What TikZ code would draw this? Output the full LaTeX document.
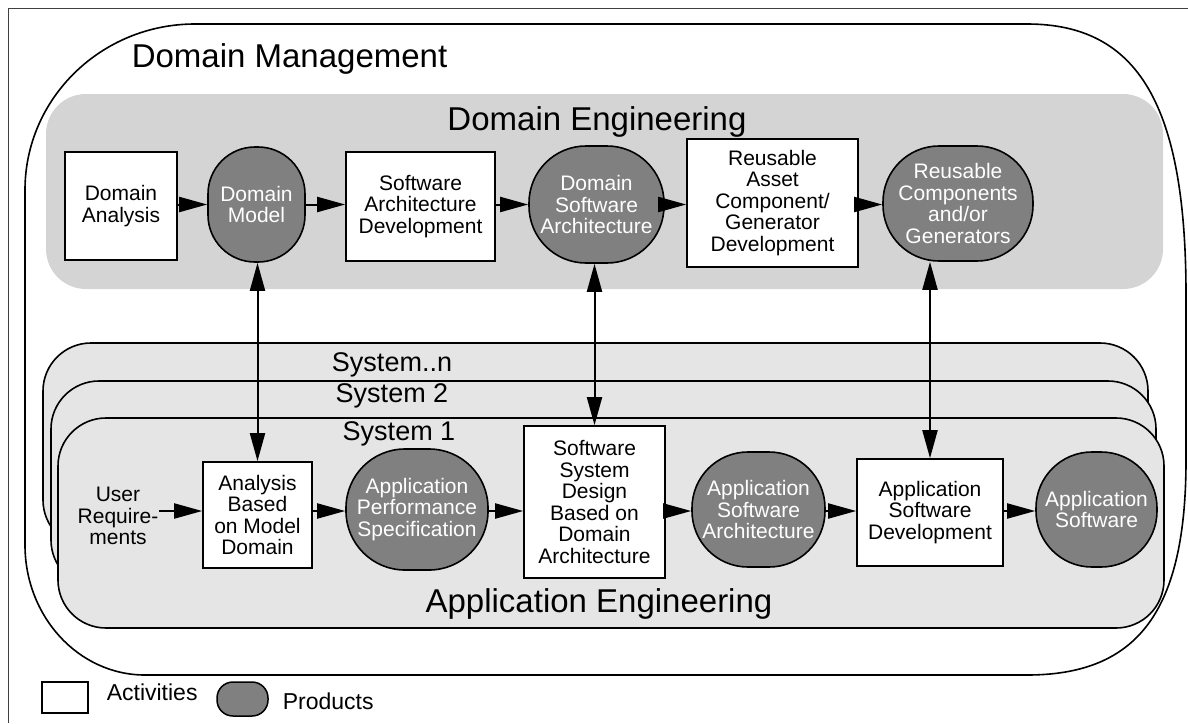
\documentclass[tikz,border=0pt]{standalone}
\usepackage{fontspec}
\setmainfont{Liberation Sans}
\usepackage{tikz}
\usetikzlibrary{arrows.meta}
\definecolor{deggray}{RGB}{212,212,212}
\definecolor{sysgray}{RGB}{229,229,229}
\definecolor{prodgray}{RGB}{128,128,128}
\tikzset{every picture/.style={line width=1.6pt},
  activity/.style={draw,fill=white,align=center,inner sep=0pt,font=\fontsize{21}{21.5}\selectfont},
  product/.style={draw,fill=prodgray,text=white,align=center,inner sep=0pt,font=\fontsize{21}{21.5}\selectfont},
  flow/.style={line width=2pt,-{Triangle[length=28pt,width=15pt]}},
  bothflow/.style={line width=2pt,{Triangle[length=28pt,width=15pt]}-{Triangle[length=28pt,width=15pt]}},
  biglabel/.style={font=\fontsize{33}{36}\selectfont,inner sep=0pt,anchor=base},
  syslabel/.style={font=\fontsize{27}{30}\selectfont,inner sep=0pt,anchor=base},
  legtext/.style={font=\fontsize{23}{25}\selectfont,inner sep=0pt,anchor=base west}}

\begin{document}
\begin{tikzpicture}[x=1pt,y=1pt,yscale=-1]
\useasboundingbox (0,0) rectangle (1188,723);

%Frame
\draw [line width=1pt,black!75] (1188,8) -- (8,8) -- (8,723) ;
%Shape: Domain Engineering
\fill [deggray,rounded corners=40] (46,94) rectangle (1163,289) ;
%Shape: Domain Management
\draw (195,24) -- (1027,24) .. controls (1138.3,24) and (1186,105.3) .. (1186,295) -- (1186,460) .. controls (1186,610.5) and (1138.3,675) .. (1027,675) -- (145,675) .. controls (78.8,675) and (25,616.8) .. (25,545) -- (25,190) .. controls (25,98.4) and (101.2,24) .. cycle ;
%Shape: Systems
\draw [fill=sysgray,rounded corners=48] (43,343) rectangle (1148,548) ;
\draw [fill=sysgray,rounded corners=48] (51,381) rectangle (1156,588) ;
\draw [fill=sysgray,rounded corners=48] (58,418) rectangle (1164,628) ;

% Text Node
\node [biglabel,anchor=base west] (dmgt) at (131,67) {Domain Management};
\node [biglabel] (deng) at (597,130) {Domain Engineering};
\node [biglabel] (aeng) at (599,612) {Application Engineering};
\node [syslabel] (sysn) at (392,371) {System..n};
\node [syslabel] (sys2) at (392,402) {System 2};
\node [syslabel] (sys1) at (399,440) {System 1};

%Domain Engineering row
\coordinate (trow) at (0,204.5);
\node [activity,minimum width=112,minimum height=108] (DA) at (121,206) {Domain\\Analysis};
\node [product,minimum width=97,minimum height=115,rounded corners=47] (DM) at (256.5,204.5) {Domain\\Model};
\node [activity,minimum width=149,minimum height=109] (SAD) at (420.5,206.5) {Software\\Architecture\\Development};
\node [product,minimum width=135,minimum height=117,rounded corners=57] (DSA) at (596.5,204.5) {Domain\\Software\\Architecture};
\node [activity,minimum width=171,minimum height=128] (RA) at (772.5,203) {Reusable\\Asset\\Component/\\Generator\\Development};
\node [product,minimum width=150,minimum height=115,rounded corners=56] (RC) at (958,203.5) {Reusable\\Components\\and/or\\Generators};

%Application Engineering row
\coordinate (brow) at (0,511);
\node [inner sep=0pt,align=center,font=\fontsize{21}{21.5}\selectfont] (UR) at (118,516) {User\\Require-\\ments};
\node [activity,minimum width=109,minimum height=106] (ANA) at (257.5,515) {Analysis\\Based\\on Model\\Domain};
\node [product,minimum width=142,minimum height=121,rounded corners=59] (APS) at (417,509.5) {Application\\Performance\\Specification};
\node [activity,minimum width=141,minimum height=152] (SSD) at (594.5,502) {Software\\System\\Design\\Based on\\Domain\\Architecture};
\node [product,minimum width=133,minimum height=115,rounded corners=56] (ASA) at (758.5,509.5) {Application\\Software\\Architecture};
\node [activity,minimum width=146,minimum height=107] (ASD) at (930,512.5) {Application\\Software\\Development};
\node [product,minimum width=121,minimum height=115,rounded corners=56] (AS) at (1096.5,509.5) {Application\\Software};

%Legend
\node [activity,line width=1.5pt,minimum width=46,minimum height=31] (legA) at (65,697.5) {};
\node [legtext] (legAt) at (106,700) {Activities};
\node [product,line width=1.5pt,minimum width=51,minimum height=34,rounded corners=16] (legP) at (242.5,699) {};
\node [legtext] (legPt) at (282,709) {Products};

%Straight Lines
\draw [flow] (DA.east |- trow) -- (DM.west |- trow) ;
\draw [flow] (DM.east |- trow) -- (SAD.west |- trow) ;
\draw [flow] (SAD.east |- trow) -- (DSA.west |- trow) ;
\draw [flow] (DSA.east |- trow) -- (RA.west |- trow) ;
\draw [flow] (RA.east |- trow) -- (RC.west |- trow) ;
\draw [flow] (UR.east |- brow) -- (ANA.west |- brow) ;
\draw [flow] (ANA.east |- brow) -- (APS.west |- brow) ;
\draw [flow] (APS.east |- brow) -- (SSD.west |- brow) ;
\draw [flow] (SSD.east |- brow) -- (ASA.west |- brow) ;
\draw [flow] (ASA.east |- brow) -- (ASD.west |- brow) ;
\draw [flow] (ASD.east |- brow) -- (AS.west |- brow) ;
%Vertical links
\draw [bothflow] (DM.south -| ANA.north) -- (ANA.north) ;
\draw [bothflow] (DSA.south -| SSD.north) -- (SSD.north) ;
\draw [bothflow] (RC.south -| ASD.north) -- (ASD.north) ;

\end{tikzpicture}
\end{document}
